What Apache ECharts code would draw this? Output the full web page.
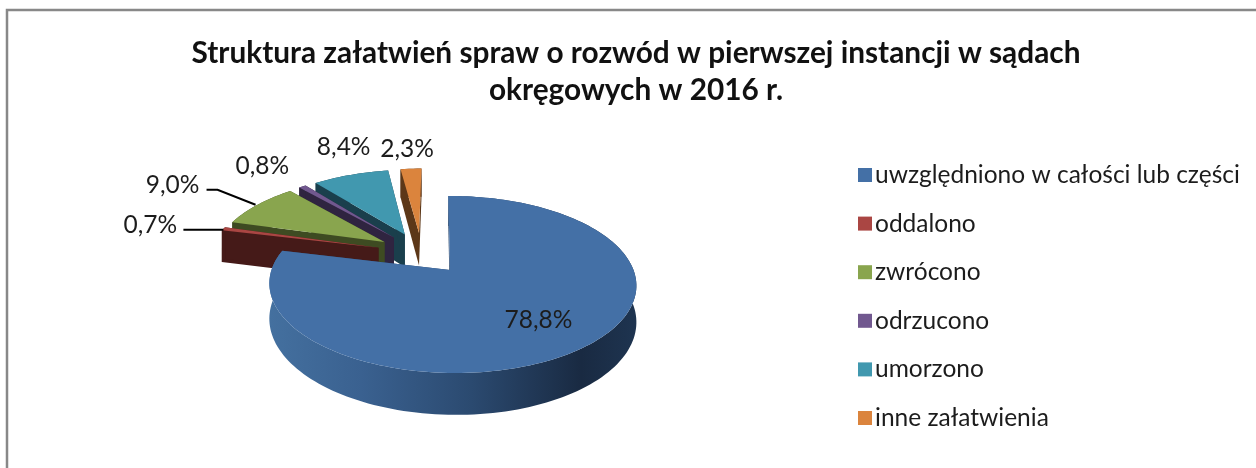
<!DOCTYPE html>
<html><head><meta charset="utf-8">
<style>html,body{margin:0;padding:0;background:#fff}#c{width:1256px;height:468px}</style>
<script src="https://cdn.jsdelivr.net/npm/echarts@6/dist/echarts.min.js"></script>
</head><body><div id="c"></div>
<script>
const categories = ['uwzględniono w całości lub części','oddalono','zwrócono','odrzucono','umorzono','inne załatwienia'];
const values = [78.8,0.7,9.0,0.8,8.4,2.3];
const labels = ['78,8%','0,7%','9,0%','0,8%','8,4%','2,3%'];
const topColors = ['#4470A6','#AA4643','#89A54E','#71588F','#4198AF','#DB843D'];
const wallColors = ['#2C4A70','#451A18','#3E4B22','#2F2440','#1A3F4C','#5C3718'];
const labelOffsets = [[-43,-28],[-73,-4],[-85,-20],[-40,-20],[-7,-28],[-4,-20]];
const leaders = [null,[[-40,1],[0,1]],[[-51,-15],[-40,-15],[-2,0]],null,null,null];
const drawOrder = [5,4,3,2,1,0];
const FONT = 'Lato';
const TEXT = '#1c1c1c';

// projection of the tilted pie
const VIEW = {x:450, y:270, rx:181, ry:86.1, k:0.1638, m:0.0136, shear:2, explode:0.26, depth:35};
const total = values.reduce((a,b)=>a+b,0);
const starts = values.map((_,i)=>values.slice(0,i).reduce((a,b)=>a+b,0)/total*Math.PI*2);
const ends = values.map((_,i)=>values.slice(0,i+1).reduce((a,b)=>a+b,0)/total*Math.PI*2);
const mids = values.map((_,i)=>(starts[i]+ends[i])/2);
const dir = t=>[Math.sin(t),-Math.cos(t)];
const ref = dir(mids[0]);

function project(i,r,t,drop){
  const b = dir(mids[i]), d = dir(t);
  const U = r*d[0]+VIEW.explode*(b[0]-ref[0]);
  const V = r*d[1]+VIEW.explode*(b[1]-ref[1]);
  const W = 1-VIEW.k*V-VIEW.m*U;
  return [VIEW.x+(VIEW.rx*U+VIEW.shear*V)/W, VIEW.y+(VIEW.ry*V+(drop?VIEW.depth:0))/W];
}
function arcPts(i,drop){
  const n = Math.max(2,Math.ceil((ends[i]-starts[i])/0.03));
  const out=[];
  for(let s=0;s<=n;s++) out.push(project(i,1,starts[i]+(ends[i]-starts[i])*s/n,drop));
  return out;
}
function renderSlice(i){
  return function(params,api){
    const fill = api.style().fill;
    const children=[];
    const wall = i===0 ? {type:'linear',x:0,y:0,x2:1,y2:0,colorStops:[
        {offset:0,color:'#44709f'},{offset:0.25,color:'#3A6190'},{offset:0.55,color:'#2B4A70'},
        {offset:0.85,color:'#192A42'},{offset:1,color:'#1E3450'}]} : wallColors[i];
    const apexT = project(i,0,0,false), apexB = project(i,0,0,true);
    const topArc = arcPts(i,false), botArc = arcPts(i,true);
    const poly=(pts,f,z)=>({type:'polygon',z2:z,silent:true,shape:{points:pts},style:{fill:f,stroke:null}});
    // radial cut faces
    children.push(poly([apexT,topArc[0],botArc[0],apexB],wallColors[i],1));
    const nA=topArc.length-1;
    children.push(poly([apexT,topArc[nA],botArc[nA],apexB],wallColors[i],1));
    // outer wall
    children.push(poly(topArc.concat(botArc.slice().reverse()),wall,2));
    // top face
    children.push(poly([apexT].concat(topArc),fill,3));
    // leader line
    const anchor = project(i,1,mids[i],false);
    if(leaders[i]) children.push({type:'polyline',z2:4,silent:true,
      shape:{points:leaders[i].map(p=>[anchor[0]+p[0],anchor[1]+p[1]])},
      style:{stroke:'#000',lineWidth:2,fill:null}});
    // value label
    children.push({type:'text',z2:5,silent:true,
      x:anchor[0]+labelOffsets[i][0],y:anchor[1]+labelOffsets[i][1],
      style:{text:labels[i],fill:TEXT,font:'24.5px '+FONT,align:'center',verticalAlign:'middle'}});
    return {type:'group',children};
  };
}
const seriesList = drawOrder.map((i,o)=>({
  type:'custom',name:categories[i],coordinateSystem:'none',z:2+o,
  data:[[values[i]]],itemStyle:{color:topColors[i]},
  renderItem:renderSlice(i),animation:false,silent:true,clip:false
}));
const chart = echarts.init(document.getElementById('c'),null,{renderer:'canvas'});
chart.setOption({
  animation:false,backgroundColor:'#fff',
  title:{text:'Struktura załatwień spraw o rozwód w pierwszej instancji w sądach\nokręgowych w 2016 r.',
    left:631,top:30,textAlign:'center',
    textStyle:{fontFamily:FONT,fontWeight:'bold',fontSize:29.8,lineHeight:37,color:'#111'}},
  legend:{orient:'vertical',left:853,top:156,data:categories,icon:'rect',itemWidth:14,itemHeight:14,itemGap:20.6,
    selectedMode:false,textStyle:{fontFamily:FONT,fontSize:24.5,lineHeight:28,color:TEXT,padding:[0,0,0,-2]}},
  graphic:[{type:'polyline',silent:true,z:0,
    shape:{points:[[7,468],[7,10],[1256,10]]},style:{stroke:'#888',lineWidth:2.5,fill:null}}],
  series:seriesList
});
</script></body></html>
